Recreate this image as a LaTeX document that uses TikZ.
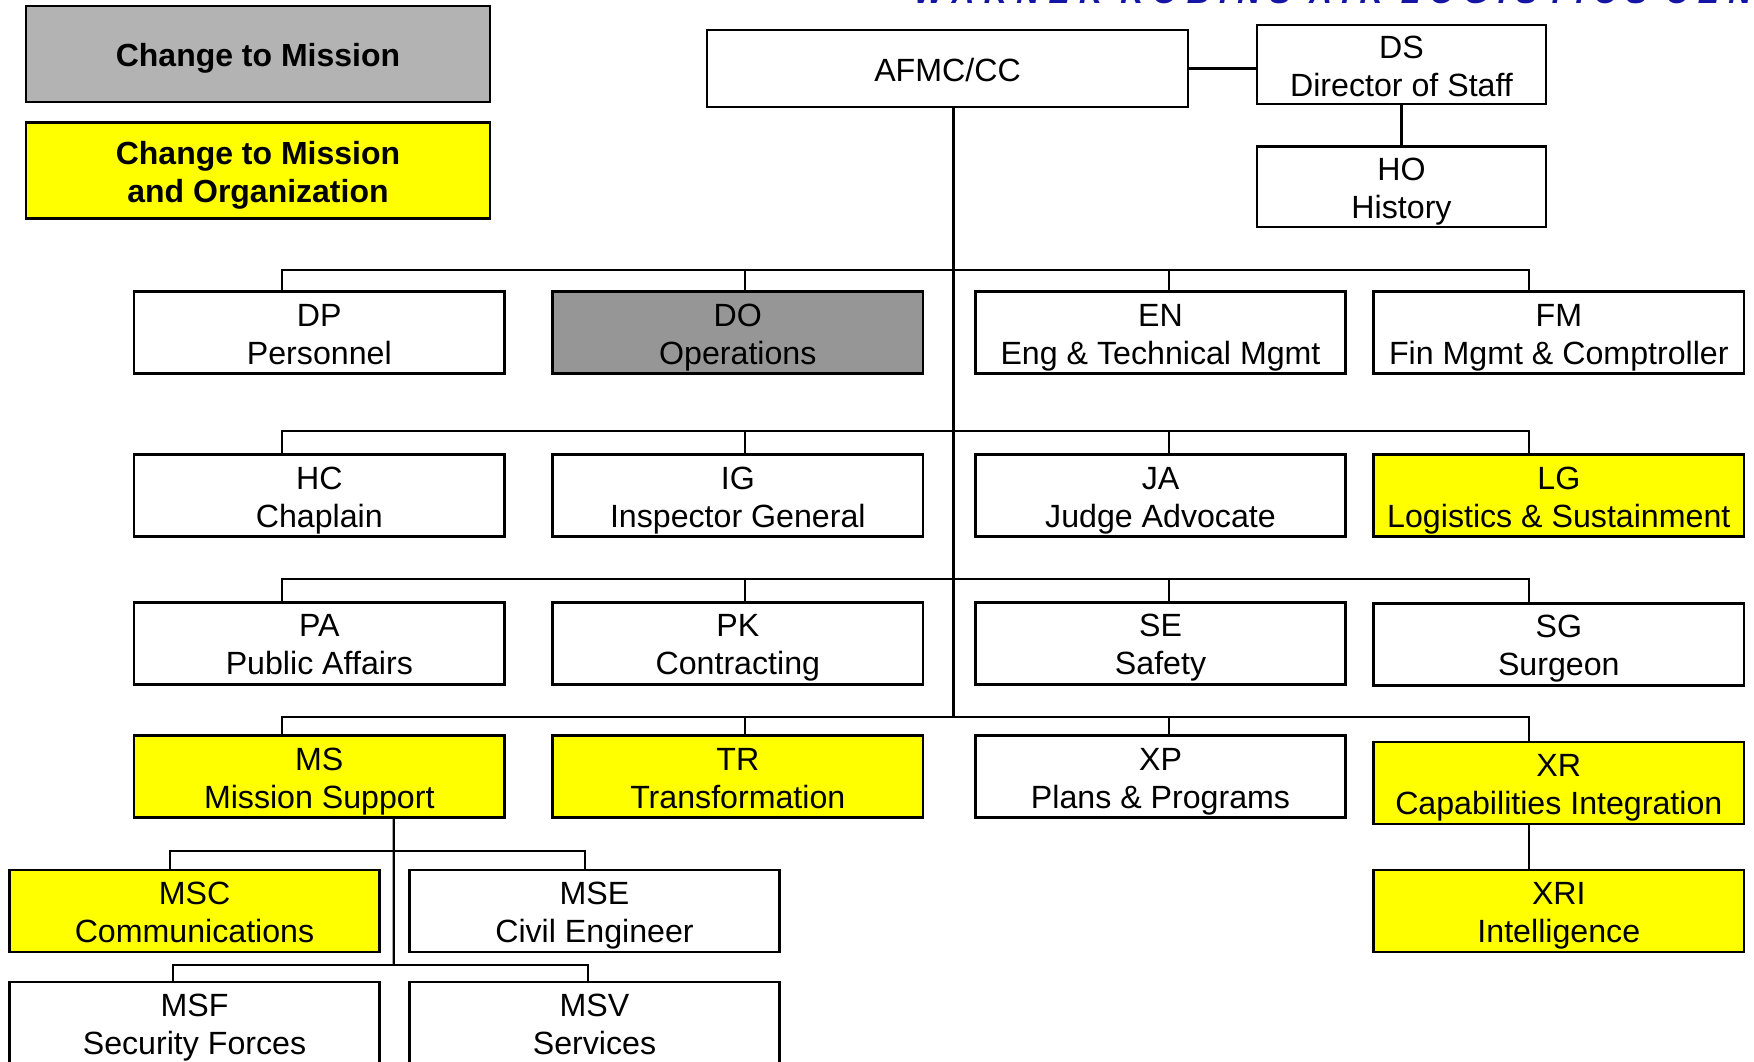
\documentclass[tikz,border=0pt]{standalone}
\usepackage{fontspec}
\setmainfont{Liberation Sans}
\usetikzlibrary{calc}
\definecolor{keygray}{RGB}{179,179,179}
\definecolor{dogray}{RGB}{150,150,150}
\definecolor{chgyellow}{RGB}{255,255,0}
\definecolor{titleblue}{RGB}{20,20,165}
\newcommand\lbl[2]{\rule{0pt}{7.2pt}#1\\\smash{#2}}
\newcommand\one[1]{\rule{0pt}{7.2pt}\smash{#1}}
\begin{document}
\begin{tikzpicture}[
    x=0.1mm,y=-0.1mm,
    font=\fontsize{9.15}{10.8}\selectfont,
    line width=0.6pt
  ]
\def\bw{37.05mm}

\tikzstyle{unit}=[draw,line width=0.8pt,minimum width=\bw,minimum height=8.2mm,align=center,inner sep=0pt];
\tikzstyle{key}=[unit,minimum width=46.4mm,minimum height=9.6mm,font=\bfseries\fontsize{9.1}{10.8}\selectfont];
\tikzstyle{chg}=[fill=chgyellow];
\tikzstyle{msn}=[fill=dogray];

\clip (0,0) rectangle (1754,1062);

\node[anchor=base west,inner sep=0pt,text=titleblue,font=\bfseries\itshape\fontsize{9}{10}\selectfont\addfontfeature{LetterSpace=30}] (title) at (913,4) {WARNER ROBINS AIR LOGISTICS CENTER};

% legend
\node[key,fill=keygray] (key1) at (258,54) {\one{Change to Mission}};
\node[key,chg] (key2) at (258,170.5) {\lbl{Change to Mission}{and Organization}};

% command section
\node[unit,minimum width=48.1mm,minimum height=7.7mm] (afmc) at (947.5,68.5) {\one{AFMC/CC}};
\node[unit,minimum width=28.9mm,minimum height=7.9mm] (ds) at (1401.5,64.5) {\lbl{DS}{Director of Staff}};
\node[unit,minimum width=28.9mm,minimum height=8.05mm] (ho) at (1401.5,186.8) {\lbl{HO}{History}};

% staff rows
\node[unit] (dp) at (319.3,332.8) {\lbl{DP}{Personnel}};
\node[unit,msn] (do) at (737.8,332.8) {\lbl{DO}{Operations}};
\node[unit] (en) at (1160.5,332.8) {\lbl{EN}{Eng \& Technical Mgmt}};
\node[unit] (fm) at (1558.8,332.8) {\lbl{FM}{Fin Mgmt \& Comptroller}};

\node[unit] (hc) at (319.3,495.5) {\lbl{HC}{Chaplain}};
\node[unit] (ig) at (737.8,495.5) {\lbl{IG}{Inspector General}};
\node[unit] (ja) at (1160.5,495.5) {\lbl{JA}{Judge Advocate}};
\node[unit,chg] (lg) at (1558.8,495.5) {\lbl{LG}{Logistics \& Sustainment}};

\node[unit] (pa) at (319.3,643.2) {\lbl{PA}{Public Affairs}};
\node[unit] (pk) at (737.8,643.2) {\lbl{PK}{Contracting}};
\node[unit] (se) at (1160.5,643.2) {\lbl{SE}{Safety}};
\node[unit] (sg) at (1558.8,644.3) {\lbl{SG}{Surgeon}};

\node[unit,chg] (ms) at (319.3,776.4) {\lbl{MS}{Mission Support}};
\node[unit,chg] (tr) at (737.8,776.4) {\lbl{TR}{Transformation}};
\node[unit] (xp) at (1160.5,776.4) {\lbl{XP}{Plans \& Programs}};
\node[unit,chg] (xr) at (1558.8,783) {\lbl{XR}{Capabilities Integration}};

% mission support
\node[unit,chg] (msc) at (194.5,911) {\lbl{MSC}{Communications}};
\node[unit] (mse) at (594.5,911) {\lbl{MSE}{Civil Engineer}};
\node[unit] (msf) at (194.5,1023) {\lbl{MSF}{Security Forces}};
\node[unit] (msv) at (594.5,1023) {\lbl{MSV}{Services}};

\node[unit,chg] (xri) at (1558.8,911) {\lbl{XRI}{Intelligence}};

% connectors
\draw (afmc.east) -- (afmc.east -| ds.west);
\draw (ds.south) -- (ho.north);

\coordinate (t1) at (953.5,269.6);
\coordinate (t2) at (953.5,430.7);
\coordinate (t3) at (953.5,579.4);
\coordinate (t4) at (953.5,717);
\draw (afmc.south -| t1) -- (t4);

\draw ([xshift=-3.7mm]dp.north) |- (t1);
\draw ([xshift=0.7mm]do.north) |- (t1);
\draw ([xshift=0.85mm]en.north) |- (t1);
\draw ([xshift=-3mm]fm.north) |- (t1);

\draw ([xshift=-3.7mm]hc.north) |- (t2);
\draw ([xshift=0.7mm]ig.north) |- (t2);
\draw ([xshift=0.85mm]ja.north) |- (t2);
\draw ([xshift=-3mm]lg.north) |- (t2);

\draw ([xshift=-3.7mm]pa.north) |- (t3);
\draw ([xshift=0.7mm]pk.north) |- (t3);
\draw ([xshift=0.85mm]se.north) |- (t3);
\draw ([xshift=-3mm]sg.north) |- (t3);

\draw ([xshift=-3.7mm]ms.north) |- (t4);
\draw ([xshift=0.7mm]tr.north) |- (t4);
\draw ([xshift=0.85mm]xp.north) |- (t4);
\draw ([xshift=-3mm]xr.north) |- (t4);

\coordinate (msbus1) at ($(ms.south)+(74.4,32.3)$);
\coordinate (msbus2) at ($(ms.south)+(74.4,146.3)$);
\draw ([xshift=7.44mm]ms.south) -- (msbus2);
\draw ([xshift=-2.45mm]msc.north) |- (msbus1);
\draw ([xshift=-0.95mm]mse.north) |- (msbus1);
\draw ([xshift=-2.15mm]msf.north) |- (msbus2);
\draw ([xshift=-0.65mm]msv.north) |- (msbus2);

\draw ([xshift=-3mm]xr.south) -- ([xshift=-3mm]xri.north);

\end{tikzpicture}
\end{document}
